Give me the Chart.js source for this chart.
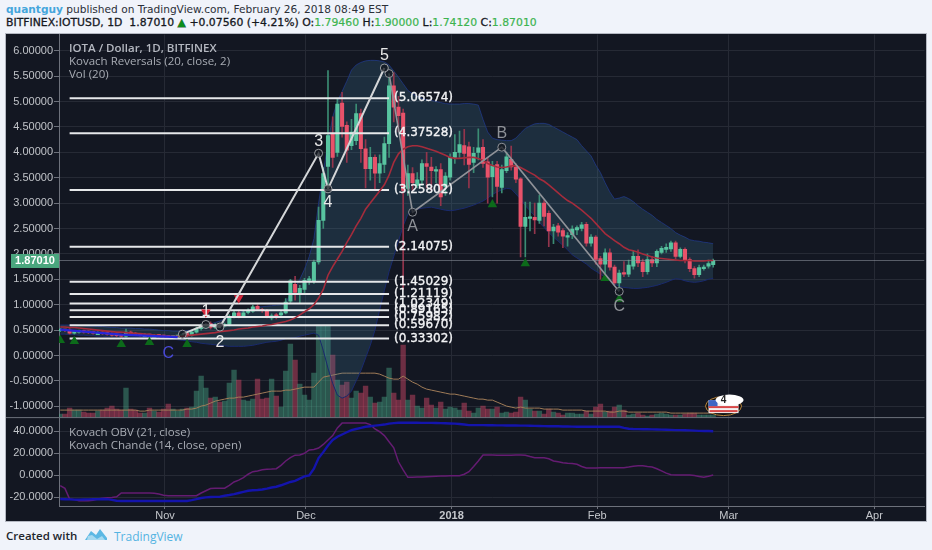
<!DOCTYPE html>
<html><head><meta charset="utf-8">
<script src="https://cdn.jsdelivr.net/npm/chart.js@4"></script>
<style>
html,body{margin:0;padding:0;background:#f0f3fa;width:932px;height:550px;overflow:hidden;font-family:"Open Sans",sans-serif}
.abs{position:absolute;white-space:nowrap}
#wrap{position:absolute;left:6px;top:34px;width:920px;height:487px;background:#131722;box-shadow:0 0 0 1px #b4b8c2;overflow:hidden}
#l1{left:6px;top:1px;font-family:"DejaVu Sans";font-size:10.6px;line-height:16px;color:#2b2f38}
#l1 b{color:#45a6dc;font-weight:bold}
#l2{left:6px;top:15px;font-family:"DejaVu Sans";font-size:10.85px;line-height:16px;color:#15181e;-webkit-text-stroke:.3px #15181e}
#l2 i{font-style:normal;color:#3cb34f;-webkit-text-stroke:.2px #3cb34f}
#l2 u{text-decoration:none;color:#0b8f1b}
.leg{font-size:11.5px;line-height:13px;color:#a8acb4;font-family:"Open Sans",sans-serif}
#f1{left:6px;top:528px;font-size:11.5px;color:#22252c;font-weight:600}
#f2{left:114px;top:528px;font-size:12px;color:#55b4e2}
</style></head><body>
<div class="abs" id="l1"><b>quantguy</b> published on TradingView.com, February 26, 2018 08:49 EST</div>
<div class="abs" id="l2">BITFINEX:IOTUSD, 1D&nbsp; 1.87010 <u>▲</u> +0.07560 (+4.21%) O:<i>1.79460</i> H:<i>1.90000</i> L:<i>1.74120</i> C:<i>1.87010</i></div>
<div id="wrap"><canvas id="c" width="924" height="492" style="width:924px;height:492px;display:block;margin-top:-5px"></canvas></div>
<div class="abs leg" style="left:69px;top:41px;font-weight:600;color:#b4b8c0">IOTA / Dollar, 1D, BITFINEX</div>
<div class="abs leg" style="left:69px;top:54px">Kovach Reversals (20, close, 2)</div>
<div class="abs leg" style="left:69px;top:67px">Vol (20)</div>
<div class="abs leg" style="left:69px;top:425px">Kovach OBV (21, close)</div>
<div class="abs leg" style="left:69px;top:438px">Kovach Chande (14, close, open)</div>
<div class="abs" id="f1">Created with</div>
<svg class="abs" style="left:84px;top:527px" width="24" height="15" viewBox="0 0 24 15"><path d="M1 13 L7 4 L12 8 L16 2 L23 11 L23 13 Z" fill="#5cb8e4"/><path d="M4 9 L8 8 L13 12 L18 9 L21 13 L3 13 Z" fill="#a6d9f0"/></svg>
<div class="abs" id="f2">TradingView</div>
<script>
// day number counted from 1 Nov 2017; the series covers -22 .. 117
const firstDay = -22;
const opens = [
 .49,.50,.50,.44,.46,.47,.46,.45,.44,.44,
 .43,.42,.40,.39,.38,.46,.42,.41,.40,.40,
 .39,.39,.38,.37,.36,.37,.38,.41,.40,.46,
 .53,.55,.63,.55,.60,.58,.61,.77,.84,.78,
 .85,.87,.97,.90,.89,.74,.80,.80,.84,1.07,
 1.40,1.22,1.30,1.48,1.47,1.84,2.66,3.72,4.37,4.00,
 4.97,4.53,4.13,4.23,4.76,4.07,3.68,3.90,3.59,3.76,
 4.17,5.31,4.89,4.77,3.29,3.58,3.35,3.45,3.78,3.71,
 3.63,3.66,3.32,3.51,3.90,4.00,4.13,4.11,3.80,4.00,
 4.10,3.81,3.52,3.76,3.31,3.64,3.86,3.71,3.48,2.54,
 2.70,2.72,2.66,3.00,2.80,2.45,2.55,2.46,2.33,2.38,
 2.47,2.50,2.58,2.21,2.33,1.91,1.80,2.02,1.74,1.43,
 1.63,1.60,1.76,1.95,1.84,1.65,1.89,1.82,2.03,2.09,
 2.10,2.22,1.95,2.09,1.89,1.71,1.59,1.71,1.76,1.79];
const closes = [
 .50,.49,.44,.46,.47,.46,.45,.44,.44,.43,
 .42,.40,.39,.38,.46,.42,.41,.40,.40,.39,
 .39,.38,.37,.36,.37,.38,.41,.40,.46,.53,
 .58,.58,.55,.60,.58,.61,.77,.84,.78,.84,
 .89,.96,.91,.88,.77,.78,.75,.84,1.05,1.47,
 1.24,1.32,1.48,1.50,1.84,2.66,3.58,4.33,3.90,4.95,
 4.51,4.04,4.40,4.76,4.07,3.68,3.90,3.59,3.78,4.17,
 5.31,4.89,4.72,3.25,3.58,3.40,3.46,3.78,3.72,3.64,
 3.65,3.12,3.53,3.90,4.00,4.15,3.98,3.76,3.98,4.09,
 3.78,3.51,3.74,3.33,3.66,3.91,3.71,3.47,2.54,2.72,
 2.73,2.67,3.00,2.74,2.45,2.53,2.43,2.35,2.36,2.49,
 2.52,2.57,2.21,2.33,1.89,1.80,2.02,1.74,1.43,1.62,
 1.60,1.78,1.95,1.82,1.65,1.89,1.82,2.05,2.11,2.13,
 2.22,1.95,2.09,1.87,1.71,1.59,1.73,1.74,1.81,1.87];
const highs = [
 .53,.52,.53,.49,.50,.50,.49,.48,.47,.47,
 .46,.45,.43,.42,.52,.48,.45,.43,.43,.42,
 .41,.41,.40,.39,.39,.40,.43,.44,.50,.56,
 .62,.62,.66,.63,.63,.64,.80,.87,.87,.87,
 .92,.99,1.00,.93,.91,.82,.83,.87,1.12,1.50,
 1.56,1.38,1.52,1.56,1.88,2.92,3.70,5.61,4.70,5.05,
 5.18,4.60,4.65,4.95,4.85,4.25,4.10,3.95,3.95,4.30,
 5.55,5.57,5.10,4.85,3.75,3.70,3.60,3.85,4.00,3.90,
 3.72,3.78,3.60,3.97,4.35,4.42,4.45,4.20,4.10,4.46,
 4.25,3.90,3.82,3.82,3.75,4.00,4.12,3.78,3.50,3.02,
 3.02,3.00,3.16,3.05,2.85,2.58,2.60,2.50,2.42,2.55,
 2.55,2.62,2.62,2.38,2.36,1.95,2.10,2.10,1.78,1.68,
 1.85,1.88,2.05,2.08,1.90,2.00,1.95,2.08,2.15,2.20,
 2.25,2.25,2.12,2.12,1.92,1.75,1.78,1.78,1.88,1.90];
const lows = [
 .47,.47,.42,.42,.44,.44,.43,.42,.42,.41,
 .40,.38,.37,.36,.36,.40,.39,.38,.38,.37,
 .37,.36,.35,.34,.34,.35,.36,.37,.38,.44,
 .50,.53,.52,.53,.55,.56,.58,.74,.74,.75,
 .82,.85,.88,.85,.74,.70,.72,.77,.82,1.02,
 1.09,1.03,1.22,1.40,1.42,1.80,2.50,3.25,3.70,3.92,
 4.30,3.80,4.05,4.15,3.80,3.30,3.45,3.25,3.40,3.60,
 3.90,4.60,4.40,1.30,3.15,3.25,3.30,3.35,3.30,3.25,
 3.40,2.95,3.15,3.45,3.78,3.90,3.75,3.30,3.60,3.85,
 3.70,3.00,3.12,3.00,3.20,3.60,3.65,3.40,1.94,1.94,
 2.45,2.40,2.60,2.55,2.14,2.20,2.35,2.12,2.15,2.30,
 2.38,2.45,2.15,2.15,1.80,1.50,1.60,1.68,1.40,1.28,
 1.55,1.55,1.70,1.75,1.55,1.60,1.75,1.75,2.00,2.03,
 2.05,1.90,1.92,1.82,1.65,1.52,1.55,1.68,1.72,1.74];
const volumes = [
 3,3,9,7,7,5,4,4,6,7,
 9,11,8,7,29,8,7,4,4,9,
 6,5,8,13,8,6,8,9,10,26,
 41,29,19,20,15,16,34,47,37,17,
 16,18,38,18,19,38,21,10,46,73,
 57,33,22,17,44,92,92,92,62,37,
 32,35,19,26,24,31,20,14,15,20,
 49,24,17,72,17,22,11,9,19,12,
 9,15,8,10,9,7,14,6,4,9,
 11,8,8,10,4,5,4,5,20,17,
 8,6,6,3,8,5,4,2,4,4,
 3,3,6,3,10,13,5,6,10,12,
 7,2,3,4,2,1,2,3,4,3,
 2,2,2,3,4,4,2,2,2,2];
const volumeAvg = [
 7,7,7,7,7,7,7,7,7,7,
 7,7,7,7,7,7,7,6,6,7,
 7,7,7,7,7,7,7,8,8,9,
 11,12,14,16,17,18,19,19,20,20,
 21,22,23,24,25,26,26,26,27,27,
 28,29,30,30,30,35,40,41,42,43,
 44,44,44,44,44,44,44,44,43,41,
 39,38,38,41,38,35,33,30,28,27,
 26,25,24,23,23,22,21,20,19,18,
 18,17,17,15,13,11,10,9,10,9,
 9,9,9,8,8,8,8,7,7,7,
 7,7,6,6,6,6,6,5,5,6,
 6,5,5,5,5,5,5,5,5,5,
 4,4,4,4,4,4,4,4,4,4];
const bandUpper = [
 .60,.60,.60,.60,.59,.59,.58,.58,.57,.57,
 .56,.55,.55,.54,.54,.54,.53,.53,.52,.52,
 .51,.50,.49,.49,.48,.48,.48,.49,.50,.53,
 .56,.59,.62,.65,.68,.72,.75,.80,.84,.87,
 .90,.92,.95,.96,.97,.98,.99,1.00,1.05,1.20,
 1.35,1.50,1.70,1.95,2.30,3.00,3.60,4.20,4.70,5.00,
 5.20,5.40,5.62,5.72,5.77,5.80,5.81,5.81,5.80,5.78,
 5.72,5.60,5.48,5.35,5.22,5.15,5.10,5.06,5.03,5.02,
 5.00,4.98,4.96,4.95,4.95,4.95,4.96,4.96,4.95,4.93,
 4.65,4.40,4.28,4.25,4.24,4.23,4.23,4.28,4.38,4.47,
 4.52,4.56,4.57,4.57,4.55,4.50,4.45,4.40,4.35,4.30,
 4.25,4.13,4.03,3.93,3.75,3.60,3.40,3.22,3.08,3.10,
 3.13,3.09,3.03,2.95,2.88,2.82,2.76,2.68,2.62,2.56,
 2.50,2.42,2.37,2.33,2.28,2.26,2.25,2.23,2.22,2.20];
const bandLower = [
 .42,.42,.41,.41,.40,.40,.39,.39,.38,.38,
 .37,.37,.37,.36,.36,.35,.35,.34,.34,.33,
 .33,.33,.32,.32,.32,.31,.30,.29,.27,.26,
 .24,.23,.22,.21,.20,.19,.18,.18,.18,.18,
 .19,.20,.22,.24,.26,.27,.28,.30,.33,.34,
 .35,.38,.40,.42,.44,.40,.10,-.25,-.55,-.78,
 -.84,-.80,-.70,-.50,-.30,-.05,.20,.50,.90,1.28,
 1.65,1.95,2.25,2.55,2.78,2.86,2.88,2.90,2.91,2.92,
 2.90,2.88,2.86,2.85,2.86,2.88,2.90,2.93,2.96,3.00,
 3.04,3.10,3.17,3.22,3.26,3.29,3.28,3.18,3.08,2.95,
 2.85,2.75,2.62,2.52,2.42,2.33,2.25,2.17,2.08,1.98,
 1.92,1.86,1.80,1.72,1.66,1.60,1.54,1.47,1.41,1.36,
 1.34,1.33,1.32,1.32,1.33,1.34,1.36,1.38,1.41,1.44,
 1.48,1.51,1.50,1.47,1.45,1.44,1.45,1.47,1.50,1.52];
const bandMiddle = [
 .56,.56,.55,.55,.54,.53,.52,.51,.50,.49,
 .48,.47,.46,.46,.45,.44,.43,.43,.42,.41,
 .40,.39,.38,.38,.38,.38,.38,.39,.40,.41,
 .42,.43,.44,.45,.47,.48,.49,.50,.52,.53,
 .54,.56,.57,.58,.60,.61,.63,.65,.67,.70,
 .74,.80,.86,.92,1.00,1.13,1.30,1.58,1.75,1.90,
 2.05,2.22,2.38,2.55,2.70,2.88,3.00,3.12,3.24,3.36,
 3.55,3.80,3.97,4.06,4.11,4.13,4.13,4.11,4.08,4.05,
 4.02,3.98,3.94,3.90,3.88,3.88,3.89,3.90,3.90,3.88,
 3.84,3.78,3.74,3.71,3.70,3.71,3.73,3.74,3.70,3.65,
 3.60,3.55,3.48,3.43,3.36,3.28,3.20,3.12,3.05,3.00,
 2.93,2.86,2.78,2.70,2.60,2.50,2.40,2.33,2.26,2.20,
 2.13,2.08,2.06,2.03,2.00,1.97,1.94,1.92,1.91,1.90,
 1.89,1.88,1.87,1.87,1.87,1.86,1.86,1.86,1.87,1.87];
const obvLine = [
 -21.5,-21.6,-21.8,-22,-22,-21.9,-21.8,-21.7,-21.6,-21.5,
 -21.6,-22.2,-23,-23.2,-23.3,-23.3,-23.3,-23.3,-23.3,-23.2,
 -23.2,-23.2,-23.2,-23.3,-23.3,-23.3,-23.3,-23.2,-22.5,-21.5,
 -20.5,-20,-19.6,-19.5,-19.4,-18.5,-17.8,-17,-16,-15,
 -14,-13.5,-13.3,-12.8,-12,-11,-10.3,-9,-7.5,-6,
 -5,-3,-1,0,6,15.6,21,27,32,35,
 37,39,41,42,43,44,44.5,45,45.5,46,
 46.8,47.3,47.6,47.6,47.6,47.6,47.6,47.5,47.5,47.5,
 47.4,47.3,47.2,47,46.8,46.5,46,45.5,45.5,45.5,
 45.5,45.4,45.4,45.3,45.3,45.2,45.2,45.1,45,45,
 44.9,44.8,44.7,44.6,44.5,44.5,44.4,44.3,44.2,44.1,
 44,44,44,44,44,44,44,44,44,44,
 43,42.2,42,41.9,41.8,41.7,41.6,41.5,41.4,41.3,
 41.2,41,41,40.9,40.7,40.5,40.3,40.2,40.1,40];
const chandeLine = [
 -9.4,-11.8,-21.5,-22,-23,-23,-23,-22.5,-21.5,-20.7,
 -20.2,-20,-19.5,-16,-16,-16,-16,-16,-16,-16,
 -16.2,-17,-18,-18.5,-18.5,-18.5,-18.5,-18.5,-18.5,-18.5,
 -16,-14,-12,-11.6,-11.6,-11.6,-9,-6,-4.3,-2,
 1,3.3,4,5,5.5,5.7,6,9,13,16,
 18.3,18.5,20,23,23.5,24.7,28,32,36,43,
 47.3,47.3,47.3,47.3,47.3,47.3,46,42,39.5,36,
 30.4,25,12.3,5,-1.8,-1.8,-1.6,-1.4,-1.2,-1,
 -.8,-.6,-.5,-.4,-.3,-.3,1,3.3,8,13,
 18.4,18.4,18.4,18.3,18.2,18.2,18.3,18.4,18.4,18.2,
 17,16,16,16,15,13,12.3,11.5,11,10.8,
 10,8,6.6,6.6,6.7,6.8,6.9,6.9,6.9,6.9,
 6.9,7.5,8.2,8.7,8.6,8,7.5,6,4,2,
 .5,.3,.3,.3,.2,-.2,-1,-1.8,-.8,.3];
const fibLevels = [5.06574,4.37528,3.25802,2.14075,1.45029,1.21119,1.02349,.89165,.75982,.5967,.33302];
const fibDays = [-20,48];
const waveDays = [4,9,12,33,35,47];
const waveValues = [.42,.61,.56,3.98,3.28,5.66];
const correctionDays = [48,53,72,97];
const correctionValues = [5.55,2.82,4.10,1.26];
const earlyDays = [-22,-9,3];
const earlyValues = [.51,.41,.36];
const buyDays = [-22,-19,-9,-3,5,70,77,94,97];
const buyValues = [.30,.28,.22,.26,.22,2.97,1.81,1.52,1.11];
const sellDays = [9,16];
const sellValues = [.85,1.13];
const waveTexts = ["1","2","3","4","5","A","B","C","C"];
const waveTextDays = [9,12,33,35,47,53,72,97,1];
const waveTextValues = [.86,.25,4.22,3.0,5.90,2.53,4.37,.97,.03];
const waveTextColors = ["#e8e8e8","#e8e8e8","#e8e8e8","#e8e8e8","#e8e8e8","#8f9298","#8f9298","#8f9298","#4a4ad8"];
const priceTicks = [-1,-.5,0,.5,1,1.5,2,2.5,3,3.5,4,4.5,5,5.5,6];
const oscTicks = [-20,0,20,40];
const monthTicks = [.3,30.3,61.3,92.3,120.3,151.3];
const monthLabels = ["Nov","Dec","2018","Feb","Mar","Apr"];
const lastClose = 1.8701;

const days = opens.map((_,i)=>firstDay+i);
const up = i => closes[i]>=opens[i];
const pts = (arr)=>arr.map((v,i)=>({x:days[i],y:v}));
const pair = (xs,ys)=>xs.map((x,i)=>({x,y:ys[i]}));

const lineBase = {type:'line',pointRadius:0,borderWidth:1.5,tension:0,fill:false};
const fibSets = fibLevels.map(v=>({...lineBase,data:fibDays.map(d=>({x:d,y:v})),borderColor:'#e6e8ea',borderWidth:2,yAxisID:'y',order:40}));

const framePlugin = {id:'frame',
 afterDraw(chart){
  const {ctx,scales:{x,y,y2},chartArea:a}=chart;
  ctx.save();
  ctx.strokeStyle='#6d717b';ctx.lineWidth=1;
  ctx.beginPath();ctx.moveTo(0,y2.top+.5);ctx.lineTo(a.right,y2.top+.5);ctx.stroke();
  // fib level captions
  ctx.font='12px "DejaVu Sans"';ctx.textBaseline='middle';ctx.textAlign='left';
  ctx.fillStyle='#f2f3f5';ctx.strokeStyle='#f2f3f5';ctx.lineWidth=.35;
  fibLevels.forEach(v=>{const t='('+v.toFixed(5)+')',px=x.getPixelForValue(fibDays[1])+5,py=y.getPixelForValue(v);ctx.fillText(t,px,py);ctx.strokeText(t,px,py);});
  // wave captions
  ctx.font='16px "Liberation Sans"';ctx.textAlign='center';
  waveTexts.forEach((t,i)=>{ctx.fillStyle=waveTextColors[i];ctx.fillText(t,x.getPixelForValue(waveTextDays[i]),y.getPixelForValue(waveTextValues[i]));});
  // last price badge
  const py=y.getPixelForValue(lastClose);
  ctx.fillStyle='#4aa67e';ctx.fillRect(5,py-6.5,48,14);
  ctx.fillStyle='#fff';ctx.font='bold 11px "Liberation Sans"';ctx.textAlign='center';
  ctx.fillText(lastClose.toFixed(5),29,py+.5);
  // economic event flag
  const fx=x.getPixelForValue(119.2), fy=y2.top-12;
  ctx.beginPath();ctx.ellipse(fx,fy+1,18,9.5,0,0,Math.PI*2);ctx.fillStyle='#111';ctx.fill();
  ctx.strokeStyle='#b8843c';ctx.lineWidth=1;ctx.stroke();
  ctx.fillStyle='#f2f2f2';ctx.fillRect(fx-15,fy-5,30,13);
  ctx.fillStyle='#d84848';ctx.fillRect(fx-15,fy+1,30,2);ctx.fillRect(fx-14,fy+5,28,2);
  ctx.fillStyle='#3e66c4';ctx.fillRect(fx-15,fy-5,9,6);
  ctx.beginPath();ctx.ellipse(fx+6,fy-5,14,5.5,0,0,Math.PI*2);ctx.fillStyle='#fff';ctx.fill();
  ctx.fillStyle='#222';ctx.font='bold 10px "Liberation Sans"';ctx.fillText('4',fx,fy-5);
  ctx.restore();
 }};
const noPad = s=>{s.paddingTop=0;s.paddingBottom=0;s.paddingLeft=0;s.paddingRight=0;};
const tickFont={family:'"Liberation Sans"',size:11};
new Chart(document.getElementById('c'),{
 data:{datasets:[
  {type:'bar',data:pts(volumes),yAxisID:'vol',barThickness:4.7,grouped:false,order:100,
   backgroundColor:volumes.map((_,i)=>up(i)?'rgba(76,175,140,.42)':'rgba(200,70,100,.5)')},
  {...lineBase,data:pts(volumeAvg),yAxisID:'vol',borderColor:'#a07c58',borderWidth:1,order:95},
  {...lineBase,data:pts(bandUpper),yAxisID:'y',borderColor:'#1a2a6e',borderWidth:1,order:90},
  {...lineBase,data:pts(bandLower),yAxisID:'y',borderColor:'#1a2a6e',borderWidth:1,order:89,fill:'-1',backgroundColor:'rgba(70,130,165,.22)'},
  {type:'bar',data:days.map((d,i)=>({x:d,y:[lows[i],highs[i]]})),yAxisID:'y',barThickness:1,grouped:false,order:50,
   backgroundColor:days.map((_,i)=>up(i)?'#3b8c74':'#93354c')},
  {type:'bar',data:days.map((d,i)=>({x:d,y:[opens[i],closes[i]]})),yAxisID:'y',barThickness:3.4,grouped:false,minBarLength:1.5,order:49,
   backgroundColor:days.map((_,i)=>up(i)?'#58c4a0':'#e8526a')},
  {...lineBase,data:[{x:-22.26,y:lastClose},{x:161.98,y:lastClose}],yAxisID:'y',borderColor:'rgba(150,155,165,.55)',borderWidth:1,order:48},
  ...fibSets,
  {type:'scatter',data:pair(buyDays,buyValues),yAxisID:'y',pointStyle:'triangle',pointRadius:5.5,backgroundColor:'#0c6a1a',borderWidth:0,order:35},
  {type:'scatter',data:pair(sellDays,sellValues),yAxisID:'y',pointStyle:'triangle',rotation:180,pointRadius:5.5,backgroundColor:'#d8283c',borderWidth:0,order:35},
  {...lineBase,data:pts(bandMiddle),yAxisID:'y',borderColor:'#a52c3c',borderWidth:1.6,order:30},
  {...lineBase,data:pair(earlyDays,earlyValues),yAxisID:'y',borderColor:'#2626dc',borderWidth:2.2,order:28},
  {...lineBase,data:pair(waveDays,waveValues),yAxisID:'y',borderColor:'#d4d6d8',borderWidth:2,order:20,pointRadius:4,pointBackgroundColor:'rgba(20,24,32,.75)',pointBorderColor:'#9a9da2',pointBorderWidth:1},
  {...lineBase,data:pair(correctionDays,correctionValues),yAxisID:'y',borderColor:'#8f9298',borderWidth:1.6,order:20,pointRadius:4,pointBackgroundColor:'rgba(20,24,32,.75)',pointBorderColor:'#8f9298',pointBorderWidth:1},
  {...lineBase,data:pts(chandeLine),yAxisID:'y2',borderColor:'#651c72',borderWidth:1.5,order:11},
  {...lineBase,data:pts(obvLine),yAxisID:'y2',borderColor:'#1414ac',borderWidth:2.4,order:10}
 ]},
 options:{
  responsive:false,animation:false,
  layout:{padding:0},
  plugins:{legend:{display:false},tooltip:{enabled:false}},
  scales:{
   x:{type:'linear',position:'bottom',offset:false,min:-22.26,max:161.98,
      afterBuildTicks:s=>{s.ticks=monthTicks.map(v=>({value:v}));},
      afterFit:s=>{s.height=15;noPad(s);},
      ticks:{autoSkip:false,maxRotation:0,padding:0,color:'#c4c7cc',
        font:c=>({...tickFont,weight:c.index===2?'bold':'normal'}),
        callback:(v,i)=>monthLabels[i]},
      grid:{offset:false,color:'#262a35',tickColor:'#6d717b',tickLength:3},border:{color:'#6d717b'}},
   y:{type:'linear',position:'left',stack:'panes',stackWeight:383,weight:1,min:-1.213,max:6.319,
      afterBuildTicks:s=>{s.ticks=priceTicks.map(v=>({value:v}));},
      afterFit:s=>{s.width=53;noPad(s);},
      ticks:{autoSkip:false,padding:1,color:'#c0c3c8',font:tickFont,callback:v=>v.toFixed(5)},
      grid:{color:'#262a35',tickColor:'#6d717b',tickLength:5},border:{color:'#6d717b'}},
   y2:{type:'linear',position:'left',stack:'panes',stackWeight:89,weight:0,min:-27.78,max:52.76,
      afterBuildTicks:s=>{s.ticks=oscTicks.map(v=>({value:v}));},
      afterFit:s=>{s.width=53;noPad(s);},
      ticks:{autoSkip:false,padding:1,color:'#c0c3c8',font:tickFont,callback:v=>v.toFixed(4)},
      grid:{color:'#262a35',tickColor:'#6d717b',tickLength:5},border:{color:'#6d717b'}},
   vol:{type:'linear',position:'left',display:false,min:-89,max:383}
  }
 },
 plugins:[framePlugin]
});
</script>
</body></html>
